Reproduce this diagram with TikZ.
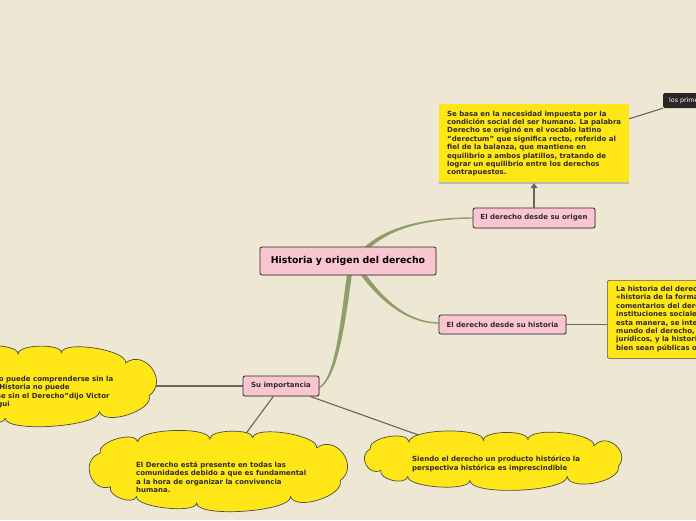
\documentclass[tikz,border=0pt]{standalone}
\usepackage{fontspec}
\setmainfont{DejaVu Sans}
\usetikzlibrary{arrows.meta,shadows,calc}
\definecolor{bg}{HTML}{EEE7D3}
\definecolor{pinkf}{HTML}{F9C5D0}
\definecolor{yel}{HTML}{FFE617}
\definecolor{grn}{HTML}{8F9F6A}
\definecolor{lnk}{HTML}{6A645C}
\definecolor{edge}{HTML}{2E2B28}
\definecolor{darkf}{HTML}{2A2826}
\definecolor{shd}{HTML}{BDBAB0}
\newcommand\cloudshp[5]{%
  \begin{scope}[shift={(#2,#3)}, xscale=#4, yscale=#5]
    \coordinate (#1-1) at (-0.90,-0.48);
    \coordinate (#1-2) at (-0.61,-0.78);
    \coordinate (#1-3) at (-0.06,-0.85);
    \coordinate (#1-4) at (0.27,-0.88);
    \coordinate (#1-5) at (0.76,-0.62);
    \coordinate (#1-6) at (0.94,0.22);
    \coordinate (#1-7) at (0.56,0.63);
    \coordinate (#1-8) at (-0.16,0.80);
    \coordinate (#1-9) at (-0.62,0.63);
    \coordinate (#1-10) at (-0.82,0.38);
  \end{scope}
  \filldraw[cloudline] (#1-1)
    \foreach \a/\b/\f in {1/2/0.3,2/3/0.18,3/4/0.22,4/5/0.2,5/6/0.6,6/7/0.3,7/8/0.16,8/9/0.18,9/10/0.35,10/1/0.6}
    { .. controls ($(#1-\a)!\f!90:(#1-\b)$) and ($(#1-\b)!\f!-90:(#1-\a)$) .. (#1-\b) } -- cycle;
}
\begin{document}
\begin{tikzpicture}[x=1pt,y=-1pt,
 txt/.style={font=\fontsize{7}{8.4}\selectfont\bfseries, text=edge, align=left, inner sep=0pt},
 topic/.style={draw=edge, line width=0.8pt, fill=pinkf, rounded corners=2pt,
   font=\fontsize{7}{8}\selectfont\bfseries, text=edge, inner sep=0pt,
   drop shadow={shadow xshift=0.7pt,shadow yshift=-0.7pt,opacity=0.35}},
 cloudline/.style={draw=edge!85, line width=0.7pt, fill=yel},
 link/.style={draw=lnk, line width=1.1pt},
 branch/.style={fill=grn, draw=none}]
\useasboundingbox (0,0) rectangle (696,520);
\clip (0,0) rectangle (696,520);
\fill[bg] (0,0) rectangle (696,520);

% green branches
\fill[branch] (347.5,270) .. controls (339.5,330) and (335,376) .. (319,387.3) -- (319,388.7) .. controls (337,379) and (344.5,330) .. (352.5,270) -- cycle;
\fill[branch] (352.9,260.7) .. controls (373,229) and (420,217.3) .. (473,217.3) -- (473,218.7) .. controls (420,219) and (377,231) .. (357.1,263.3) -- cycle;
\fill[branch] (357.1,260.7) .. controls (377,294) and (405,322.3) .. (439,322.3) -- (439,323.7) .. controls (405,324) and (373,296) .. (352.9,263.3) -- cycle;

% topic nodes
\node[topic, minimum width=176pt, minimum height=28pt, font=\fontsize{9.4}{10}\selectfont\bfseries, text=black] (main) at (348,261) {Historia y origen del derecho};
\node[topic, minimum width=122pt, minimum height=20pt] (orig) at (534,218) {El derecho desde su origen};
\node[topic, minimum width=127pt, minimum height=19pt] (hist) at (502.5,324.5) {El derecho desde su historia};
\node[topic, minimum width=76pt, minimum height=20pt] (imp) at (281,386) {Su importancia};

% top yellow box
\node[fill=yel, minimum width=190pt, minimum height=79pt, inner sep=0pt] (tbox) at (534,143.5) {};
\node[txt, anchor=north west] (ttxt) at (447,110.5) {Se basa en la necesidad impuesta por la\\condición social del ser humano. La palabra\\Derecho se originó en el vocablo latino\\“derectum” que significa recto, referido al\\fiel de la balanza, que mantiene en\\equilibrio a ambos platillos, tratando de\\lograr un equilibrio entre los derechos\\contrapuestos.};
\draw[shd, line width=2pt] (tbox.south west) -- (tbox.south east);

% dark node
\node[fill=darkf, rounded corners=1.5pt, minimum height=15pt, minimum width=60pt, anchor=west, inner sep=0pt] (dark) at (663,100.5) {};
\node[anchor=west, inner sep=0pt, font=\fontsize{6.3}{7}\selectfont, text=white] (darktxt) at (669,100.5) {los primeros};

% right yellow box
\node[fill=yel, draw=edge!80, line width=0.6pt, rounded corners=2pt, minimum width=160pt, minimum height=78pt, anchor=north west, inner sep=0pt,
  drop shadow={shadow xshift=0.7pt,shadow yshift=-0.7pt,opacity=0.35}] (rbox) at (607,280) {};
\node[txt, anchor=north west] (rtxt) at (616,286) {La historia del derecho es\\«historia de la formación\\comentarios del derecho\\instituciones sociales\\esta manera, se integra\\mundo del derecho, los\\jurídicos, y la historia\\bien sean públicas o};

% cloud centres
\coordinate (lcloud) at (26,387);
\coordinate (c1) at (217.5,472);
\coordinate (c2) at (491.5,461);

% connectors
\draw[link, -{Triangle[width=7pt,length=5pt]}] (orig.north) -- (tbox.south);
\draw[link] ([yshift=-15pt]tbox.north east) -- (dark.south west);
\draw[link] (hist.east) -- (hist.east -| rbox.west);
\draw[link] (imp.west) -- (imp.west -| lcloud);
\draw[link] (imp) -- (c1);
\draw[link] (imp) -- (c2);

% clouds
\cloudshp{lc}{26}{387}{131}{39}
\cloudshp{ca}{217.5}{472}{130.5}{39}
\cloudshp{cb}{491.5}{461}{135}{24.5}
\node[txt, anchor=north west] (ltxt) at (-51,376) {El Derecho no puede comprenderse sin la\\Historia y la Historia no puede\\comprenderse sin el Derecho"dijo Victor\\Tau Anzoátegui};
\node[txt, anchor=north west] (c1txt) at (136,461.5) {El Derecho está presente en todas las\\comunidades debido a que es fundamental\\a la hora de organizar la convivencia\\humana.};
\node[txt, anchor=north west] (c2txt) at (412,456) {Siendo el derecho un producto histórico la\\perspectiva histórica es imprescindible};
\end{tikzpicture}
\end{document}
